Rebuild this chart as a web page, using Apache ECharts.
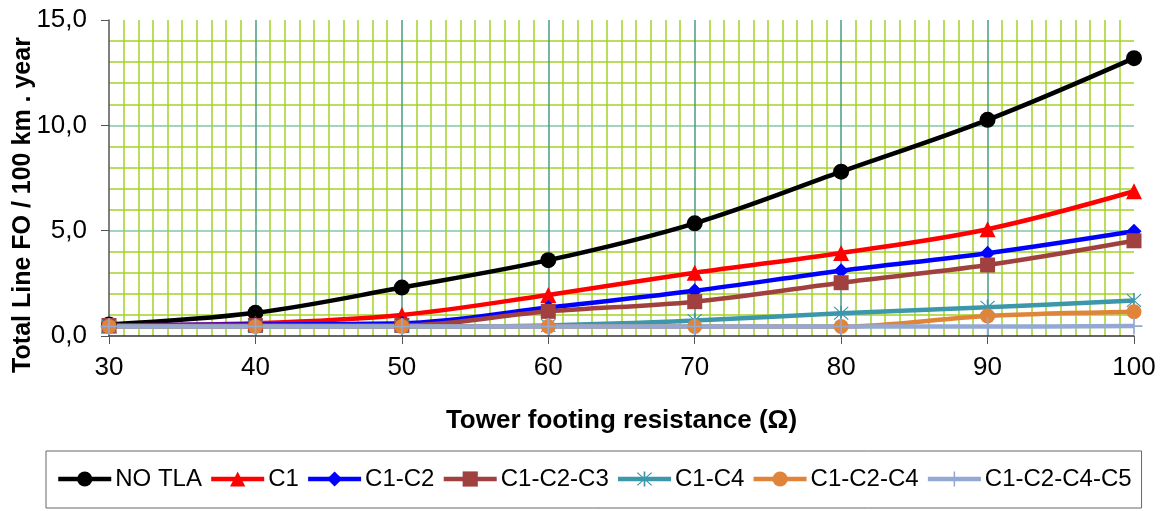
<!DOCTYPE html>
<html>
<head>
<meta charset="utf-8">
<script src="https://cdn.jsdelivr.net/npm/echarts@6/dist/echarts.min.js"></script>
<style>html,body{margin:0;padding:0;background:#fff}#c{width:1165px;height:511px}</style>
</head>
<body>
<div id="c"></div>
<script>
var resistance = [30, 40, 50, 60, 70, 80, 90, 100];
var noTla   = [0.55, 1.1, 2.3, 3.6, 5.35, 7.8, 10.26, 13.19];
var c1      = [0.5, 0.6, 1.0, 1.95, 3.0, 3.94, 5.07, 6.87];
var c1c2    = [0.5, 0.55, 0.6, 1.35, 2.15, 3.1, 3.93, 4.97];
var c1c2c3  = [0.5, 0.5, 0.5, 1.17, 1.63, 2.53, 3.37, 4.52];
var c1c4    = [0.45, 0.45, 0.45, 0.5, 0.73, 1.08, 1.36, 1.68];
var c1c2c4  = [0.45, 0.45, 0.45, 0.45, 0.45, 0.45, 0.95, 1.15];
var c1c2c4c5= [0.45, 0.45, 0.45, 0.45, 0.45, 0.45, 0.45, 0.47];
var seriesNames = ['NO TLA', 'C1', 'C1-C2', 'C1-C2-C3', 'C1-C4', 'C1-C2-C4', 'C1-C2-C4-C5'];
var yTicks = [0, 5, 10, 15];

function pairs(v){ return resistance.map(function(x,i){ return [x, v[i]]; }); }

var asterisk = 'path://M9,0h2v20h-2z M1,2L2,1L19,18L18,19Z M18,1L19,2L2,19L1,18Z';
var plus = 'path://M9,0h2v20h-2z M0,9h20v2h-20z';

var defs = [
  {d: noTla,    color: '#000000', symbol: 'circle',   size: 16},
  {d: c1,       color: '#FF0000', symbol: 'triangle', size: 16},
  {d: c1c2,     color: '#0000FF', symbol: 'diamond',  size: 15},
  {d: c1c2c3,   color: '#A0413F', symbol: 'rect',     size: 15},
  {d: c1c4,     color: '#3D97AB', symbol: asterisk,   size: 15},
  {d: c1c2c4,   color: '#E0843A', symbol: 'circle',   size: 15},
  {d: c1c2c4c5, color: '#93A8D2', symbol: plus,       size: 17}
];

var series = defs.map(function(s, i){
  return {
    name: seriesNames[i], type: 'line', data: pairs(s.d), smooth: 0.35,
    symbol: s.symbol, symbolSize: s.size, showAllSymbol: true,
    lineStyle: {color: s.color, width: 4.5},
    itemStyle: {color: s.color, borderWidth: 0},
    emphasis: {disabled: true}
  };
});

var chart = echarts.init(document.getElementById('c'));
chart.setOption({
  animation: false,
  backgroundColor: '#ffffff',
  grid: {left: 109, right: 31, top: 20, bottom: 175},
  xAxis: {
    type: 'value', min: 30, max: 100, interval: 10,
    axisLine: {show: true, lineStyle: {color: '#333', width: 1.5}},
    axisTick: {show: true, length: 8, lineStyle: {color: '#555'}},
    axisLabel: {fontFamily: 'Arial, Liberation Sans', fontSize: 26, color: '#000', margin: 19},
    minorTick: {show: false, splitNumber: 10},
    splitLine: {show: true, showMinLine: false, showMaxLine: false, lineStyle: {color: '#4A9C80', width: 1.5}},
    minorSplitLine: {show: true, lineStyle: {color: '#A4D22A', width: 1.5}},
    name: 'Tower footing resistance (Ω)', nameLocation: 'middle', nameGap: 72,
    nameTextStyle: {fontFamily: 'Arial, Liberation Sans', fontSize: 26, fontWeight: 'bold', color: '#000'}
  },
  yAxis: {
    type: 'value', min: 0, max: 15, interval: 5,
    axisLine: {show: true, lineStyle: {color: '#555', width: 1.5}},
    axisTick: {show: true, length: 8, lineStyle: {color: '#555'}},
    axisLabel: {fontFamily: 'Arial, Liberation Sans', fontSize: 26, color: '#000', margin: 22,
      formatter: function(v){ return v.toFixed(1).replace('.', ','); }},
    minorTick: {show: false, splitNumber: 5},
    splitLine: {show: true, showMinLine: false, showMaxLine: false, lineStyle: {color: '#86C4A8', width: 1.5}},
    minorSplitLine: {show: true, lineStyle: {color: '#A4D22A', width: 1.5}}
  },
  legend: {
    left: 46, top: 451, padding: [16, 10, 17, 10],
    borderColor: '#666', borderWidth: 1, borderRadius: 0,
    itemWidth: 53, itemHeight: 19, itemGap: 7,
    lineStyle: {width: 4.5},
    textStyle: {fontFamily: 'Arial, Liberation Sans', fontSize: 24, color: '#000', padding: [2, 0, 0, -1]},
    data: seriesNames
  },
  graphic: [{
    type: 'text', x: 23, y: 205, rotation: Math.PI / 2,
    style: {text: 'Total Line FO / 100 km . year', align: 'center', verticalAlign: 'middle',
      font: 'bold 25px Arial, "Liberation Sans"', fill: '#000'}
  }],
  series: series
});
</script>
</body>
</html>
